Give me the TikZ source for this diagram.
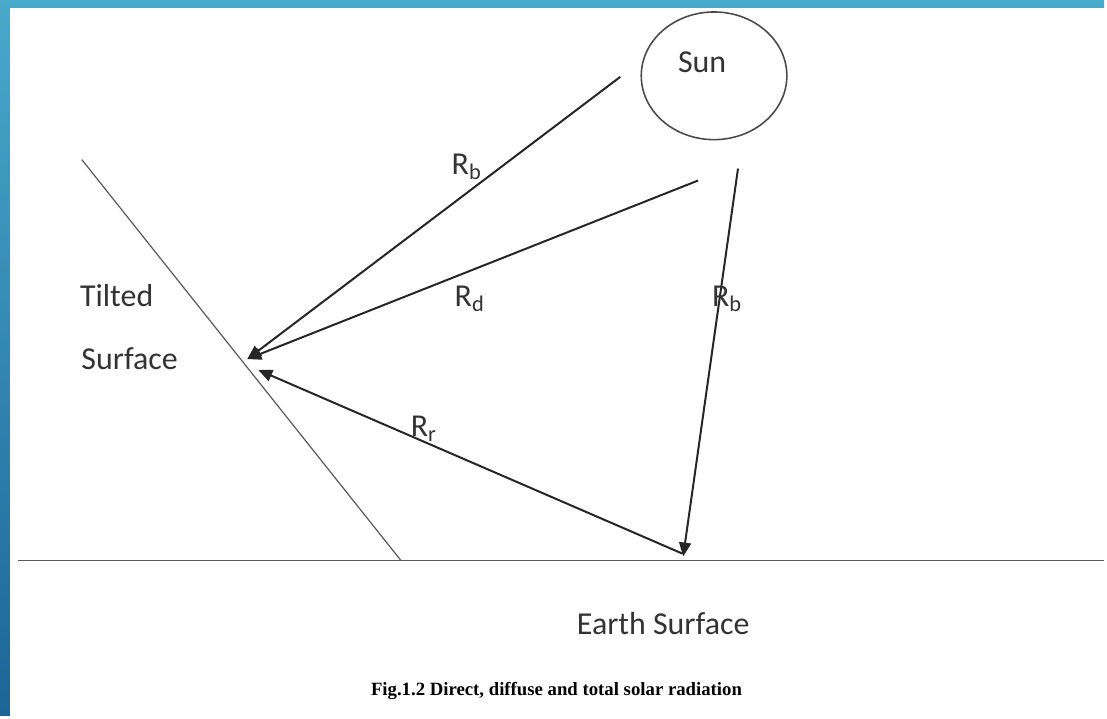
\documentclass[tikz,border=0pt]{standalone}
\usepackage{fontspec}
\setmainfont{Carlito}
\newfontfamily\captionfont{Liberation Serif}
\usetikzlibrary{arrows.meta,positioning,shapes.geometric}
\definecolor{frameTop}{HTML}{48A9CB}
\definecolor{frameBot}{HTML}{1C6596}

\begin{document}
\begin{tikzpicture}[
      x=0.5pt, y=-0.5pt,
      ray/.style={line width=1pt, draw=black!85, -{Triangle[length=7pt,width=6pt]}},
      surf/.style={line width=0.6pt, draw=black!65},
      lbl/.style={font=\fontsize{16}{18}\selectfont, text=black!80, inner sep=0pt}
  ]
      % Rahmen
      \shade[top color=frameTop, bottom color=frameBot]
          (0,0) rectangle (1107,717);
      \fill[white] (10,8) rectangle (1110,720);
      \useasboundingbox (0,0) rectangle (1107,717);

      % Sonne und Flaechen
      \node[ellipse, draw=black!70, line width=0.8pt, minimum width=73pt,
            minimum height=64pt, inner sep=0pt] (sun) at (716,76) {};
      \node[lbl] (sunlabel) at (704,62) {Sun};

      \coordinate (tiltTop) at (82,160);
      \coordinate (tiltBot) at (402,562);
      \coordinate (groundL) at (18,562);
      \coordinate (groundR) at (1107,562);
      \draw[surf] (tiltTop) -- (tiltBot);
      \draw[surf] (groundL) -- (groundR);

      % Strahlen
      \coordinate (beamA) at (622,77);
      \coordinate (diffA) at (700,181);
      \coordinate (beamB) at (740,169);
      \coordinate (hitA) at (248,360);
      \coordinate (hitB) at (259,371);
      \coordinate (refl) at (685,558);
      \coordinate (reflOut) at (684,555);

      \draw[ray] (beamA) -- (hitA);
      \draw[ray] (diffA) -- (hitA);
      \draw[ray] (beamB) -- (refl);
      \draw[ray] (reflOut) -- (hitB);

      % Beschriftungen
      \node[lbl] (rb1) at (468,167) {R\textsubscript{b}};
      \node[lbl] (rd) at (471,300) {R\textsubscript{d}};
      \node[lbl] (rb2) at (729,300) {R\textsubscript{b}};
      \node[lbl] (rr) at (425,430) {R\textsubscript{r}};
      \node[lbl] (tilted) at (117,296) {Tilted};
      \node[lbl] (surface) at (130,360) {Surface};
      \node[lbl] (earth) at (665,625) {Earth Surface};
      \node[font=\captionfont\bfseries\fontsize{9.4}{11}\selectfont, inner sep=0pt]
          (caption) at (558,693) {Fig.1.2 Direct, diffuse and total solar radiation};
\end{tikzpicture}
\end{document}
